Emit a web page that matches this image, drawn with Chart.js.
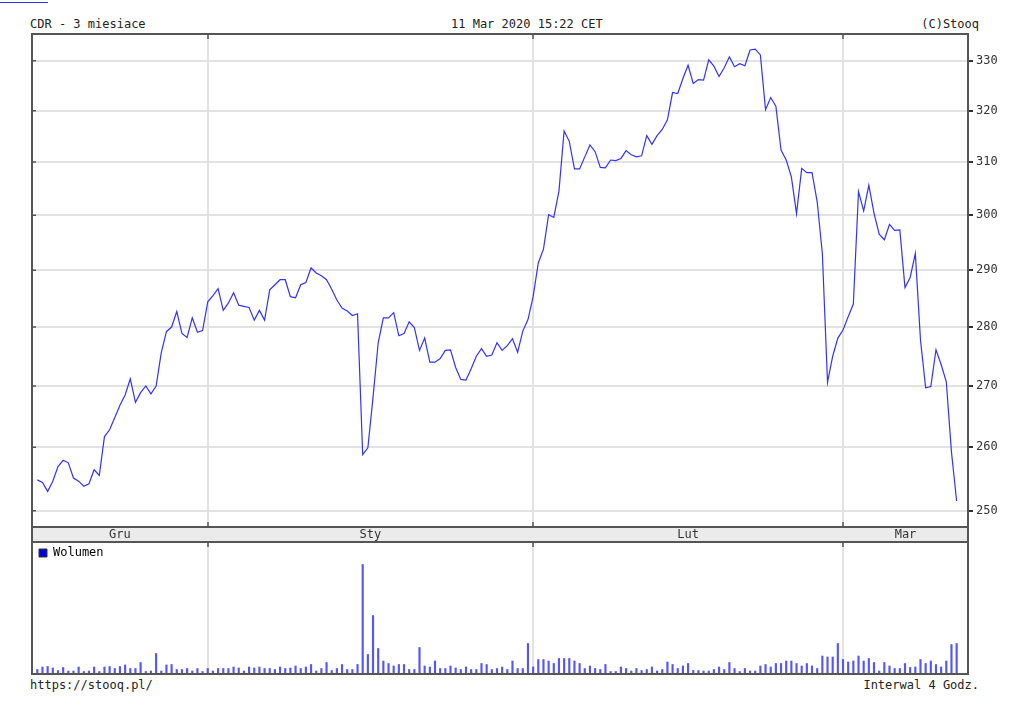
<!DOCTYPE html>
<html>
<head>
<meta charset="utf-8">
<script src="https://cdn.jsdelivr.net/npm/chart.js@4.4.1/dist/chart.umd.min.js"></script>
<style>
body{margin:0;background:#fff;}
#wrap{position:relative;width:1024px;height:714px;overflow:hidden;font:12px 'DejaVu Sans Mono',monospace;color:#222;}
.txt{position:absolute;line-height:14px;white-space:pre;}
#c1box{position:absolute;left:0;top:0;width:1024px;height:545px;}
#c2box{position:absolute;left:0;top:540px;width:1024px;height:137px;}
</style>
</head>
<body>
<div id="wrap">
  <div style="position:absolute;left:0;top:2px;width:48px;height:1px;background:#2233ee"></div>
  <div class="txt" style="left:30px;top:17px">CDR - 3 miesiace</div>
  <div class="txt" style="left:451px;top:17px">11 Mar 2020 15:22 CET</div>
  <div class="txt" style="right:45px;top:17px">(C)Stooq</div>
  <div id="c1box"><canvas id="price"></canvas></div>
  <div id="c2box"><canvas id="vol"></canvas></div>
  <div class="txt" style="left:30px;top:678px">https://stooq.pl/</div>
  <div class="txt" style="right:45px;top:678px">Interwal 4 Godz.</div>
</div>
<script>
// months shown on the band, and index of the first bar of each month
const monthNames = ['Gru', 'Sty', 'Lut', 'Mar']
const monthStart = [0, 33, 96, 156]
const priceTicks = [250, 260, 270, 280, 290, 300, 310, 320, 330]

// closing price per 4h bar (PLN)
const price = [
  254.8, 254.4, 253.0, 254.6, 256.9, 257.9, 257.5, 255.1, 254.6, 253.8,
  254.2, 256.4, 255.5, 261.7, 262.8, 264.8, 266.8, 268.5, 271.2, 267.3,
  268.9, 270.0, 268.7, 270.0, 275.6, 279.2, 280.0, 282.7, 278.9, 278.2,
  281.6, 279.1, 279.4, 284.4, 285.5, 286.7, 282.9, 284.2, 286.0, 283.8,
  283.6, 283.4, 281.2, 282.9, 281.2, 286.5, 287.4, 288.3, 288.3, 285.3,
  285.1, 287.4, 287.8, 290.4, 289.5, 289.0, 288.3, 286.6, 284.7, 283.3,
  282.8, 282.0, 282.3, 258.8, 259.9, 268.1, 277.3, 281.6, 281.6, 282.5,
  278.5, 278.9, 280.9, 279.9, 276.0, 278.1, 274.0, 274.0, 274.6, 276.0,
  276.1, 273.1, 271.1, 271.0, 272.9, 275.0, 276.3, 275.0, 275.2, 277.3,
  276.0, 276.8, 278.0, 275.7, 279.3, 281.3, 285.3, 291.3, 293.8, 300.1,
  299.6, 304.5, 316.0, 314.0, 308.7, 308.7, 311.0, 313.3, 312.0, 309.0,
  308.9, 310.4, 310.3, 310.7, 312.2, 311.4, 311.0, 311.2, 315.1, 313.4,
  315.1, 316.3, 318.2, 323.6, 323.4, 326.4, 329.1, 325.4, 326.2, 326.1,
  330.2, 328.9, 326.8, 328.6, 330.8, 328.8, 329.4, 329.0, 332.2, 332.4,
  331.2, 320.2, 322.6, 320.9, 312.3, 310.4, 307.2, 300.3, 308.8, 308.0,
  308.0, 302.5, 293.0, 270.6, 275.0, 278.1, 279.5, 281.8, 284.0, 304.4,
  300.8, 305.6, 300.4, 296.5, 295.5, 298.3, 297.2, 297.3, 286.9, 288.7,
  293.0, 277.8, 269.7, 269.9, 276.1, 273.6, 270.7, 259.2, 251.5
]

// volume per bar (thousand shares)
const volume = [
  9, 14, 15, 12, 7, 13, 6, 6, 14, 5,
  6, 14, 5, 14, 15, 11, 15, 18, 11, 11,
  23, 5, 6, 41, 6, 18, 19, 9, 9, 11,
  6, 11, 5, 11, 6, 11, 11, 11, 14, 12,
  6, 14, 12, 14, 11, 11, 9, 14, 11, 12,
  16, 11, 14, 19, 6, 11, 23, 7, 11,
  19, 9, 9, 19, 219, 39, 117, 51, 26, 21,
  16, 19, 19, 9, 9, 53, 16, 14, 26, 11,
  11, 16, 12, 9, 14, 9, 9, 21, 19, 9,
  11, 14, 9, 26, 11, 11, 61, 14, 29, 29,
  26, 21, 31, 31, 31, 26, 21, 11, 16, 11,
  9, 19, 5, 5, 14, 11, 6, 11, 7, 9,
  14, 6, 9, 24, 19, 11,
  16, 21, 7, 7, 6, 6, 9, 14, 9, 23,
  11, 5, 11, 6, 6, 16, 19, 14, 21, 21,
  26, 26, 21, 16, 21, 16, 11, 36, 34, 34,
  61, 29, 24, 26, 36, 26, 31, 23, 6, 23,
  16, 11, 11, 21, 13, 14, 29, 21, 26, 19,
  14, 26, 59, 61
]

const xMin = -1.03
const xMax = 180.2
const gridColor = '#e2e2e2'
const frameColor = '#555'

Chart.defaults.font.family = "'DejaVu Sans Mono', monospace"
Chart.defaults.font.size = 12
Chart.defaults.color = '#222'

// frame round the plot, month band and the small dark ticks
const framePlugin = {
  id: 'frame',
  beforeDraw(chart, args, opts) {
    const {ctx, chartArea: a} = chart
    if (opts.band) {
      ctx.save()
      ctx.fillStyle = '#ebebeb'
      ctx.fillRect(a.left, a.bottom, a.right - a.left, opts.band)
      ctx.restore()
    }
  },
  afterDraw(chart, args, opts) {
    const {ctx, chartArea: a} = chart
    ctx.save()
    ctx.strokeStyle = frameColor
    ctx.lineWidth = 2
    ctx.strokeRect(a.left, a.top, a.right - a.left, a.bottom - a.top)
    if (opts.band) {
      ctx.strokeRect(a.left, a.bottom, a.right - a.left, opts.band)
    }
    ctx.lineWidth = 1.5
    ctx.beginPath()
    monthStart.slice(1).forEach(b => {
      const px = Math.round(chart.scales.x.getPixelForValue(b))
      ctx.moveTo(px, a.top); ctx.lineTo(px, a.top + 5)
      if (opts.band) { ctx.moveTo(px, a.bottom); ctx.lineTo(px, a.bottom - 5) }
    })
    if (opts.leftTicks) {
      priceTicks.forEach(v => {
        const py = chart.scales.y.getPixelForValue(v)
        ctx.moveTo(a.left, py); ctx.lineTo(a.left + 4, py)
      })
    }
    ctx.stroke()
    ctx.restore()
  }
}

const priceCtx = document.getElementById('price').getContext('2d')
const priceChart = new Chart(priceCtx, {
  type: 'line',
  data: {
    datasets: [{
      data: price.map((v, i) => ({x: i, y: v})),
      borderColor: 'rgb(50, 50, 255)',
      borderWidth: 1.2,
      pointRadius: 0,
      tension: 0
    }]
  },
  plugins: [framePlugin],
  options: {
    animation: false,
    responsive: true,
    maintainAspectRatio: false,
    devicePixelRatio: 1,
    layout: {padding: {left: 32, top: 34, right: 0, bottom: 3}},
    plugins: {
      legend: {display: false},
      tooltip: {enabled: false},
      frame: {band: 15, leftTicks: true}
    },
    scales: {
      x: {
        type: 'linear',
        min: xMin,
        max: xMax,
        border: {display: false},
        grid: {
          color: c => (c.tick && c.tick.name) ? 'transparent' : gridColor,
          lineWidth: 2,
          drawTicks: false
        },
        ticks: {
          autoSkip: false,
          maxRotation: 0,
          padding: 1,
          color: '#333',
          callback: (value, index, ticks) => ticks[index].name || ''
        },
        afterBuildTicks: scale => {
          const edges = [scale.min, ...monthStart.slice(1), scale.max]
          const list = monthStart.slice(1).map(v => ({value: v}))
          monthNames.forEach((m, k) => list.push({value: (edges[k] + edges[k + 1]) / 2, name: m}))
          list.sort((p, q) => p.value - q.value)
          scale.ticks = list
        },
        afterFit: scale => { scale.height = 15 }
      },
      y: {
        type: 'logarithmic',
        position: 'right',
        min: 247.5,
        max: 335.5,
        border: {display: false},
        grid: {color: gridColor, lineWidth: 2, tickColor: '#333', tickLength: 5},
        ticks: {padding: 3, color: '#333', callback: v => String(v)},
        afterBuildTicks: scale => { scale.ticks = priceTicks.map(v => ({value: v})) },
        afterFit: scale => { scale.width = 56 }
      }
    }
  }
})

const volCtx = document.getElementById('vol').getContext('2d')
const volChart = new Chart(volCtx, {
  type: 'bar',
  data: {
    datasets: [{
      label: 'Wolumen',
      data: volume.map((v, i) => ({x: i, y: v})),
      backgroundColor: 'rgb(85, 85, 255)',
      barThickness: 1.5
    }]
  },
  plugins: [framePlugin],
  options: {
    animation: false,
    responsive: true,
    maintainAspectRatio: false,
    devicePixelRatio: 1,
    layout: {padding: {left: 32, top: 2, right: 56, bottom: 3}},
    plugins: {
      tooltip: {enabled: false},
      frame: {},
      legend: {
        position: 'chartArea',
        align: 'start',
        labels: {
          boxWidth: 8,
          boxHeight: 8,
          padding: 7,
          color: '#222',
          generateLabels: () => [{
            text: 'Wolumen',
            fillStyle: '#0000dd',
            strokeStyle: '#333',
            lineWidth: 1,
            hidden: false,
            datasetIndex: 0
          }]
        }
      }
    },
    scales: {
      x: {
        type: 'linear',
        min: xMin,
        max: xMax,
        offset: false,
        border: {display: false},
        grid: {color: gridColor, lineWidth: 2, drawTicks: false, offset: false},
        ticks: {display: false},
        afterBuildTicks: scale => { scale.ticks = monthStart.slice(1).map(v => ({value: v})) },
        afterFit: scale => { scale.height = 0 }
      },
      y: {
        display: false,
        min: 0,
        max: 264
      }
    }
  }
})
</script>
</body>
</html>
